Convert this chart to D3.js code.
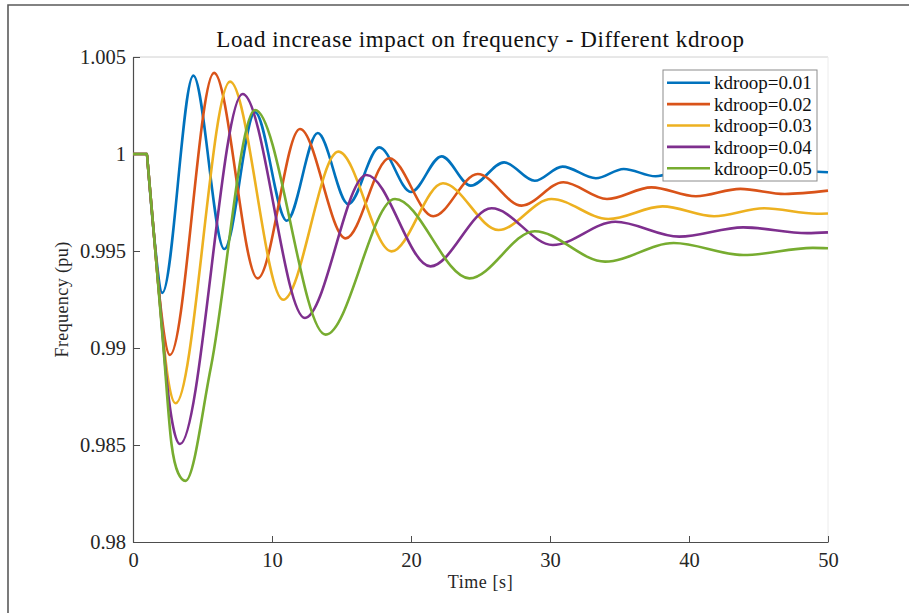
<!DOCTYPE html>
<html>
<head>
<meta charset="utf-8">
<script src="https://cdn.jsdelivr.net/npm/d3@7/dist/d3.min.js"></script>
<style>
  body { margin: 0; background: #fff; }
  svg { display: block; font-family: "Liberation Serif", "DejaVu Serif", serif; }
  .axis path, .axis line { stroke: #4d4d4d; }
  .axis text { fill: #262626; font-size: 20.5px; }
</style>
</head>
<body>
<div id="chart"></div>
<script>
// Series labels and colours (MATLAB default order)
const seriesLabels = ["kdroop=0.01", "kdroop=0.02", "kdroop=0.03", "kdroop=0.04", "kdroop=0.05"];
const seriesColors = ["#0072BD", "#D95319", "#EDB120", "#7E2F8E", "#77AC30"];

// Values: time [s] and frequency [pu] at turning points
const t01 = [0, 1, 1.05, 1.5, 2.11, 4.34, 6.57, 8.78, 11.06, 13.29, 15.49, 17.72, 20.0, 22.2, 24.3, 26.7, 28.9, 30.9, 33.3, 35.3, 37.6, 39.8, 42.0, 44.3, 46.5, 48.7, 50];
const f01 = [1, 1, 0.99959, 0.9959, 0.99284, 1.00404, 0.99510, 1.00215, 0.99656, 1.00108, 0.99742, 1.00034, 0.99804, 0.99988, 0.99837, 0.99957, 0.99862, 0.99935, 0.99875, 0.99923, 0.99885, 0.99918, 0.99892, 0.99913, 0.99897, 0.99910, 0.99906];

const t02 = [0, 1, 1.05, 1.5, 1.9, 2.66, 5.83, 8.97, 12.01, 15.3, 18.44, 21.6, 24.8, 27.96, 30.96, 34.1, 37.3, 40.5, 43.7, 46.9, 50];
const f02 = [1, 1, 0.99959, 0.9959, 0.9927, 0.98964, 1.00418, 0.99359, 1.00129, 0.99565, 0.99978, 0.99679, 0.99897, 0.99734, 0.99854, 0.99768, 0.99828, 0.99782, 0.99820, 0.99794, 0.99811];

const t03 = [0, 1, 1.05, 1.5, 2.0, 2.5, 3.07, 6.98, 10.8, 14.77, 18.6, 22.3, 26.3, 30.1, 34.2, 38.1, 41.8, 45.4, 49.2, 50];
const f03 = [1, 1, 0.99959, 0.9959, 0.9918, 0.9885, 0.98715, 1.00373, 0.99249, 1.00012, 0.99498, 0.99849, 0.99608, 0.99768, 0.99665, 0.99730, 0.99679, 0.99720, 0.99692, 0.99693];

const t04 = [0, 1, 1.05, 1.5, 2.0, 2.4, 2.9, 3.38, 7.89, 12.37, 16.8, 21.4, 25.8, 30.2, 34.7, 39.3, 43.9, 48.5, 50];
const f04 = [1, 1, 0.99959, 0.9959, 0.9918, 0.9885, 0.9859, 0.98505, 1.00309, 0.99155, 0.99892, 0.99421, 0.99720, 0.99531, 0.99651, 0.99574, 0.99622, 0.99592, 0.99596];

const t05 = [0, 1, 1.05, 1.5, 2.18, 2.77, 3.25, 3.77, 5.6, 8.78, 13.86, 18.85, 24.2, 28.9, 33.96, 38.9, 43.9, 48.9, 50];
const f05 = [1, 1, 0.99959, 0.9959, 0.9901, 0.98505, 0.98355, 0.98315, 0.9890, 1.00227, 0.99069, 0.99768, 0.99359, 0.99602, 0.99445, 0.99541, 0.99479, 0.99516, 0.99514];

const xTicks = [0, 10, 20, 30, 40, 50];
const yTicks = [0.98, 0.985, 0.99, 0.995, 1, 1.005];
const yTickLabels = ["0.98", "0.985", "0.99", "0.995", "1", "1.005"];

const seriesTimes = [t01, t02, t03, t04, t05];
const seriesFreqs = [f01, f02, f03, f04, f05];

// Figure geometry
const W = 909, H = 613;
const plot = {left: 133, right: 828, top: 57, bottom: 542};

const svg = d3.select("#chart")
    .append("svg")
    .attr("width", W)
    .attr("height", H);

// Window frame seen in the screenshot (top and left edges)
svg.append("path")
    .attr("d", `M8,${H} L8,5 L${W},5`)
    .attr("fill", "none")
    .attr("stroke", "#5a5a5a")
    .attr("stroke-width", 1.6);

const x = d3.scaleLinear().domain([0, 50]).range([plot.left, plot.right]);
const y = d3.scaleLinear().domain([0.98, 1.005]).range([plot.bottom, plot.top]);

// Faint top / right box edges
svg.append("line")
    .attr("x1", plot.left).attr("x2", plot.right)
    .attr("y1", plot.top).attr("y2", plot.top)
    .attr("stroke", "#d0d0d0");
svg.append("line")
    .attr("x1", plot.right).attr("x2", plot.right)
    .attr("y1", plot.top).attr("y2", plot.bottom)
    .attr("stroke", "#ececec");

// Axes, ticks pointing inward like MATLAB
svg.append("g")
    .attr("class", "axis")
    .attr("transform", `translate(0,${plot.bottom})`)
    .call(d3.axisBottom(x).tickValues(xTicks).tickSizeInner(-6).tickSizeOuter(0).tickPadding(10))
    .call(g => g.select(".domain").attr("stroke-width", 1.2));

svg.append("g")
    .attr("class", "axis")
    .attr("transform", `translate(${plot.left},0)`)
    .call(d3.axisLeft(y).tickValues(yTicks).tickSizeInner(-7).tickSizeOuter(0).tickPadding(7)
        .tickFormat((d, i) => yTickLabels[i]))
    .call(g => g.select(".domain").attr("stroke-width", 1.2));

// let the css font apply instead of d3's sans-serif default
svg.selectAll(".axis").attr("font-family", null).attr("font-size", null);

// Lines
const line = d3.line()
    .x(d => x(d[0]))
    .y(d => y(d[1]))
    .curve(d3.curveMonotoneX);

seriesTimes.forEach((ts, k) => {
    const pts = ts.map((t, j) => [t, seriesFreqs[k][j]]);
    svg.append("path")
        .datum(pts)
        .attr("fill", "none")
        .attr("stroke", seriesColors[k])
        .attr("stroke-width", 2.6)
        .attr("stroke-linejoin", "round")
        .attr("d", line);
});

// Title and axis labels
svg.append("text")
    .attr("x", (plot.left + plot.right) / 2)
    .attr("y", 47)
    .attr("text-anchor", "middle")
    .attr("font-size", 23)
    .attr("letter-spacing", 0.6)
    .attr("fill", "#111")
    .text("Load increase impact on frequency - Different kdroop");

svg.append("text")
    .attr("x", (plot.left + plot.right) / 2)
    .attr("y", 588)
    .attr("text-anchor", "middle")
    .attr("font-size", 18)
    .attr("letter-spacing", 0.6)
    .attr("fill", "#262626")
    .text("Time [s]");

svg.append("text")
    .attr("transform", `translate(68,${(plot.top + plot.bottom) / 2}) rotate(-90)`)
    .attr("text-anchor", "middle")
    .attr("font-size", 18)
    .attr("letter-spacing", 0.4)
    .attr("fill", "#262626")
    .text("Frequency (pu)");

// Legend
const legend = svg.append("g").attr("transform", "translate(663,70)");
legend.append("rect")
    .attr("width", 154)
    .attr("height", 111)
    .attr("fill", "#fff")
    .attr("stroke", "#8c8c8c")
    .attr("stroke-width", 1);

seriesLabels.forEach((lab, k) => {
    const ly = 12.7 + k * 21.4;
    legend.append("line")
        .attr("x1", 4).attr("x2", 47)
        .attr("y1", ly).attr("y2", ly)
        .attr("stroke", seriesColors[k])
        .attr("stroke-width", 2.6);
    legend.append("text")
        .attr("x", 51)
        .attr("y", ly)
        .attr("dy", "0.35em")
        .attr("font-size", 19)
        .attr("fill", "#111")
        .text(lab);
});
</script>
</body>
</html>
